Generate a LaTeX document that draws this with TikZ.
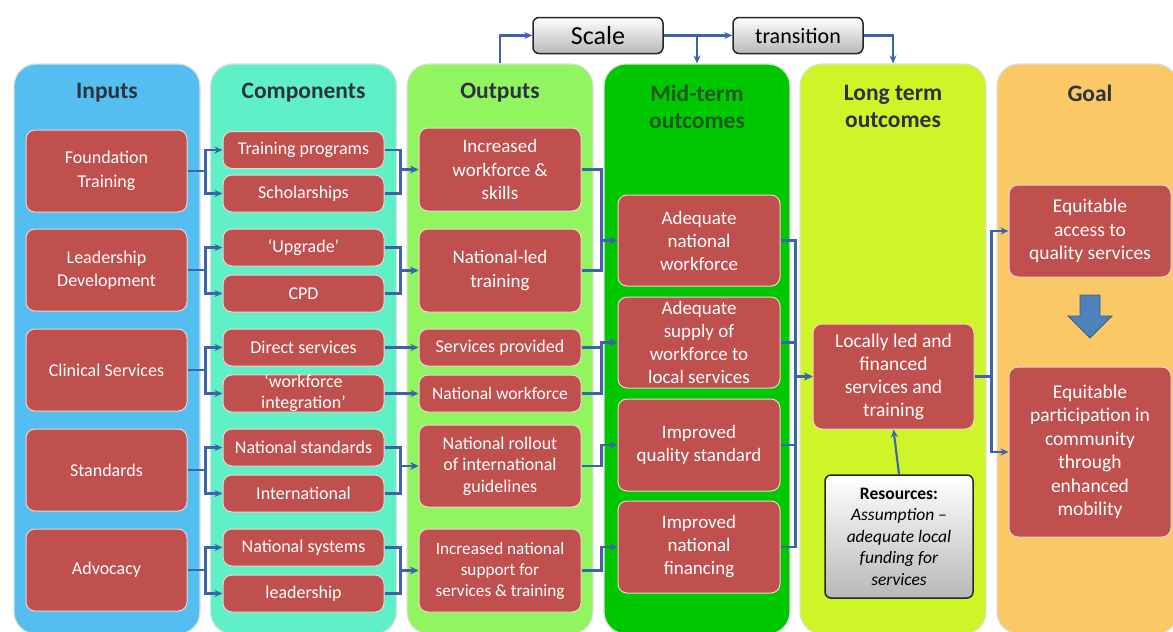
\documentclass[tikz,border=0pt]{standalone}
\usepackage{fontspec}
\setmainfont{Carlito}
\usetikzlibrary{arrows.meta}
\definecolor{cIn}{RGB}{85,190,240}
\definecolor{cComp}{RGB}{95,240,200}
\definecolor{cOut}{RGB}{145,245,95}
\definecolor{cMid}{RGB}{0,200,0}
\definecolor{cLong}{RGB}{205,245,40}
\definecolor{cGoal}{RGB}{250,200,100}
\definecolor{cRed}{RGB}{192,80,77}
\definecolor{cLine}{RGB}{60,100,170}
\definecolor{cHead}{RGB}{45,50,65}
\definecolor{cMidHead}{RGB}{30,90,30}
\definecolor{cBlue}{RGB}{79,129,189}
\definecolor{cBlueDark}{RGB}{56,93,138}
\tikzset{
 col/.style={draw=white!75!gray, line width=1.2pt, rounded corners=22pt, inner sep=0pt, minimum width=186, minimum height=570},
 rbox/.style={fill=cRed, draw=white!75!cRed, line width=1pt, rounded corners=9pt, text=white, align=center, inner sep=0pt, font=\fontsize{18}{23.5}\selectfont},
 head/.style={font=\fontsize{23.5}{27}\selectfont\bfseries, text=cHead, align=center},
 arr/.style={draw=cLine, line width=2.1pt, -{Stealth[length=8pt,width=7pt]}},
 gbox/.style={top color=white, bottom color=black!28, draw=black!85, line width=1.5pt, rounded corners=6pt, align=center, inner sep=0pt}
}
\begin{document}
\begin{tikzpicture}[x=1pt,y=-1pt]
\clip (0,0) rectangle (1173,632);
\fill[white] (0,0) rectangle (1173,632);
% columns
\node[col, fill=cIn] (col1) at (107,349) {};
\node[col, fill=cComp] (col2) at (303.5,349) {};
\node[col, fill=cOut] (col3) at (500,349) {};
\node[col, fill=cMid] (col4) at (697,349) {};
\node[col, fill=cLong] (col5) at (893,349) {};
\node[col, fill=cGoal, minimum width=181] (col6) at (1087.5,349) {};
% headers
\node[head] (h1) at (107,93) {Inputs};
\node[head] (h2) at (303.5,93) {Components};
\node[head] (h3) at (500,93) {Outputs};
\node[head, text=cMidHead] (h4) at (697,106.5) {Mid-term\\outcomes};
\node[head] (h5) at (893,106.5) {Long term\\outcomes};
\node[head] (h6) at (1090,93) {Goal};
% top boxes
\node[gbox, minimum width=130, minimum height=36, font=\fontsize{26}{28}\selectfont] (scale) at (598,35.5) {Scale};
\node[gbox, minimum width=130, minimum height=36, font=\fontsize{22}{24}\selectfont] (trans) at (798,35.5) {transition};
% inputs
\node[rbox, minimum width=161, minimum height=82] (found) at (106.5,171) {Foundation\\Training};
\node[rbox, minimum width=161, minimum height=82] (lead) at (106.5,270) {Leadership\\Development};
\node[rbox, minimum width=161, minimum height=82] (clin) at (106.5,370) {Clinical Services};
\node[rbox, minimum width=161, minimum height=82] (stand) at (106.5,470) {Standards};
\node[rbox, minimum width=161, minimum height=82] (adv) at (106.5,570) {Advocacy};
% components
\node[rbox, minimum width=161, minimum height=37] (tp) at (303.5,150) {Training programs};
\node[rbox, minimum width=161, minimum height=37] (sch) at (303.5,193.5) {Scholarships};
\node[rbox, minimum width=161, minimum height=37] (upg) at (303.5,247.5) {‘Upgrade’};
\node[rbox, minimum width=161, minimum height=37] (cpd) at (303.5,293.5) {CPD};
\node[rbox, minimum width=161, minimum height=37] (ds) at (303.5,347.5) {Direct services};
\node[rbox, minimum width=161, minimum height=37, font=\fontsize{18}{21}\selectfont] (wi) at (303.5,393.5) {‘workforce\\integration’};
\node[rbox, minimum width=161, minimum height=37] (ns) at (303.5,447.5) {National standards};
\node[rbox, minimum width=161, minimum height=37] (intl) at (303.5,493.5) {International};
\node[rbox, minimum width=161, minimum height=37] (nsys) at (303.5,547.5) {National systems};
\node[rbox, minimum width=161, minimum height=37] (ldr) at (303.5,593.5) {leadership};
% outputs
\node[rbox, minimum width=162, minimum height=83, font=\fontsize{19}{23.5}\selectfont] (incw) at (500,169.5) {Increased\\workforce \&\\skills};
\node[rbox, minimum width=162, minimum height=83, font=\fontsize{19}{23.5}\selectfont] (nlt) at (500,270.5) {National-led\\training};
\node[rbox, minimum width=162, minimum height=37] (sp) at (500,347.5) {Services provided};
\node[rbox, minimum width=162, minimum height=37, font=\fontsize{17.5}{20}\selectfont] (nw) at (500,393.5) {National workforce};
\node[rbox, minimum width=162, minimum height=82, font=\fontsize{18}{21.5}\selectfont] (nro) at (500,466) {National rollout\\of international\\guidelines};
\node[rbox, minimum width=162, minimum height=83, font=\fontsize{17.2}{21}\selectfont] (isup) at (500,570.5) {Increased national\\support for\\services \& training};
% mid-term
\node[rbox, minimum width=162, minimum height=91, font=\fontsize{19}{23}\selectfont] (anw) at (699,240.5) {Adequate\\national\\workforce};
\node[rbox, minimum width=162, minimum height=91, font=\fontsize{19}{23}\selectfont] (asup) at (699,342.5) {Adequate\\supply of\\workforce to\\local services};
\node[rbox, minimum width=162, minimum height=92, font=\fontsize{19}{23}\selectfont] (iqs) at (699,445) {Improved\\quality standard};
\node[rbox, minimum width=162, minimum height=92, font=\fontsize{19}{23}\selectfont] (inf) at (699,547) {Improved\\national\\financing};
% long term
\node[rbox, minimum width=161, minimum height=105, font=\fontsize{19.5}{23}\selectfont] (loc) at (893.5,376.5) {Locally led and\\financed\\services and\\training};
\node[gbox, minimum width=148, minimum height=123, font=\fontsize{17.5}{21.5}\selectfont] (res) at (899,536.5) {\textbf{Resources:}\\\textit{Assumption –}\\\textit{adequate local}\\\textit{funding for}\\\textit{services}};
% goal
\node[rbox, minimum width=162, minimum height=92, font=\fontsize{19.5}{23.5}\selectfont] (ga) at (1090,231) {Equitable\\access to\\quality services};
\node[rbox, minimum width=162, minimum height=170, font=\fontsize{19.5}{23.5}\selectfont] (gp) at (1090,452) {Equitable\\participation in\\community\\through\\enhanced\\mobility};
\fill[cBlue, draw=cBlueDark, line width=0.8pt] (1080,295) -- (1100,295) -- (1100,316) -- (1112,316) -- (1090,338) -- (1068,316) -- (1080,316) -- cycle;
% top connectors
\draw[arr] (col3.north) |- (scale.west);
\draw[arr] (scale.east) -- (trans.west);
\draw[arr] (scale.east) -| (col4.north);
\draw[arr] (trans.east) -| (col5.north);
% inputs -> components
\foreach \a/\b/\c in {found/tp/sch, lead/upg/cpd, clin/ds/wi, stand/ns/intl, adv/nsys/ldr}{
  \draw[arr] (\a.east) -- ++(18,0) |- (\b.west);
  \draw[arr] (\a.east) -- ++(18,0) |- (\c.west);
}
% components -> outputs
\draw[arr] (tp.east) -- ++(16,0) |- (incw.west);
\draw[arr] (sch.east) -- ++(16,0) |- (incw.west);
\draw[arr] (upg.east) -- ++(16,0) |- (nlt.west);
\draw[arr] (cpd.east) -- ++(16,0) |- (nlt.west);
\draw[arr] (ds.east) -- (sp.west);
\draw[arr] (wi.east) -- (nw.west);
\draw[arr] (ns.east) -- ++(16,0) |- (nro.west);
\draw[arr] (intl.east) -- ++(16,0) |- (nro.west);
\draw[arr] (nsys.east) -- ++(16,0) |- (isup.west);
\draw[arr] (ldr.east) -- ++(16,0) |- (isup.west);
% outputs -> mid-term
\draw[arr] (incw.east) -- ++(20,0) |- (anw.west);
\draw[arr] (nlt.east) -- ++(20,0) |- (anw.west);
\draw[arr] (sp.east) -- ++(20,0) |- (asup.west);
\draw[arr] (nw.east) -- ++(20,0) |- (asup.west);
\draw[arr] (nro.east) -- ++(20,0) |- (iqs.west);
\draw[arr] (isup.east) -- ++(20,0) |- (inf.west);
% mid-term -> long term
\foreach \m in {anw, asup, iqs, inf}{
  \draw[arr] (\m.east) -- ++(15,0) |- (loc.west);
}
% long term -> goal
\draw[arr] (loc.east) -- ++(17,0) |- (ga.west);
\draw[arr] (loc.east) -- ++(17,0) |- (gp.west);
\draw[arr] (res.north) -- (loc.south);
\end{tikzpicture}
\end{document}
